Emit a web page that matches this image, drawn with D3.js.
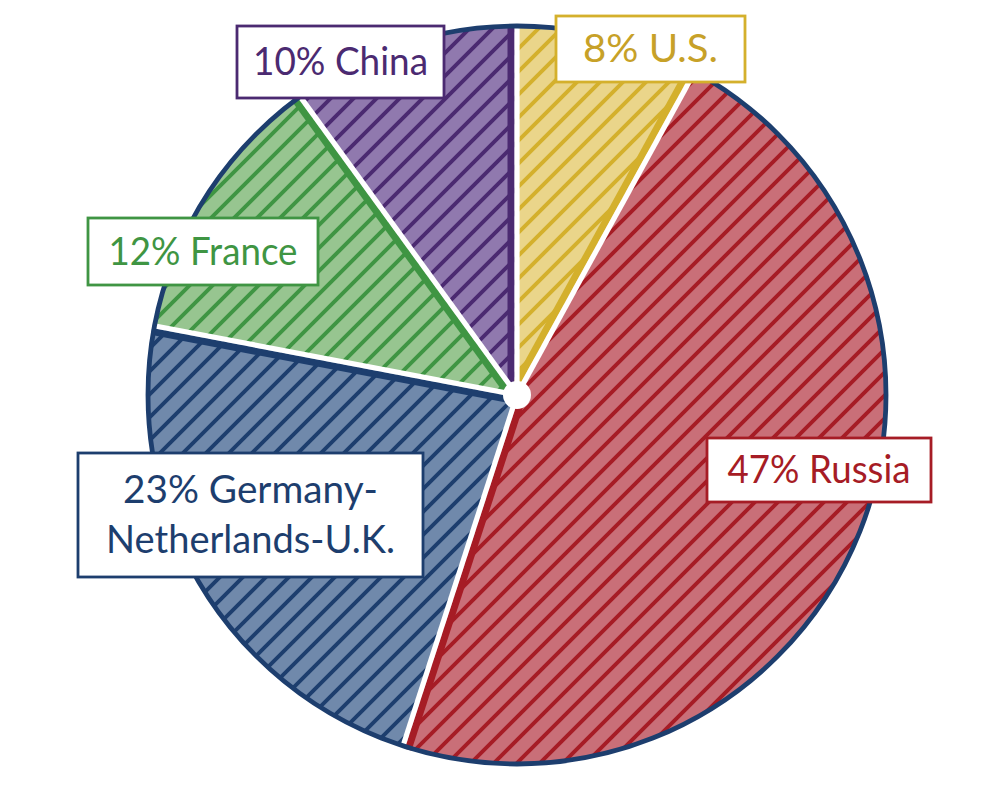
<!DOCTYPE html>
<html>
<head>
<meta charset="utf-8">
<script src="https://cdn.jsdelivr.net/npm/d3@7"></script>
<style>
  html, body { margin: 0; padding: 0; background: #fff; }
  svg { display: block; }
</style>
</head>
<body>
<div id="chart"></div>
<script>
// data, clockwise from 12 o'clock
const categories = ['U.S.', 'Russia', 'Germany-Netherlands-U.K.', 'France', 'China'];
const shares = [8, 47, 23, 12, 10];

// colours per slice
const darkColors = ['#d4b02c', '#a61c25', '#1d3e6e', '#3f9543', '#4b2a71'];
const lightColors = ['#ead58a', '#c96f78', '#7089ab', '#97c590', '#9079ae'];
const textColors = ['#c7a128', '#a61c25', '#1d3e6e', '#3f9543', '#4b2a71'];

// label boxes (layout only): left, top, width, height, text widths per line
const labelBoxes = [
  { x: 556, y: 16, w: 189, h: 66, tw: [135] },
  { x: 707, y: 438, w: 224, h: 64, tw: [183] },
  { x: 78, y: 453, w: 345, h: 124, tw: [255, 289] },
  { x: 88, y: 218, w: 230, h: 67, tw: [189] },
  { x: 237, y: 26, w: 207, h: 72, tw: [175] },
];

const width = 1000, height = 796;
const cx = 517, cy = 395, radius = 369;
const navy = '#1d3e6e';

const svg = d3.select('#chart')
  .append('svg')
  .attr('width', width)
  .attr('height', height);

const defs = svg.append('defs');

// hatch patterns "/" at 45deg
const step = 23;
categories.forEach((c, i) => {
  const p = defs.append('pattern')
    .attr('id', 'hatch' + i)
    .attr('patternUnits', 'userSpaceOnUse')
    .attr('width', step)
    .attr('height', step);
  p.append('rect')
    .attr('width', step)
    .attr('height', step)
    .attr('fill', lightColors[i]);
  p.append('path')
    .attr('d', `M-3,3 l6,-6 M0,${step} l${step},-${step} M${step - 3},${step + 3} l6,-6`)
    .attr('stroke', darkColors[i])
    .attr('stroke-width', 3.9)
    .attr('stroke-linecap', 'square');
});

const pie = d3.pie().sort(null).value(d => d);
const arcs = pie(shares);

const arc = d3.arc().innerRadius(0).outerRadius(radius);

const g = svg.append('g').attr('transform', `translate(${cx},${cy})`);

// slices
g.selectAll('path.slice')
  .data(arcs)
  .enter()
  .append('path')
  .attr('class', 'slice')
  .attr('d', arc)
  .attr('fill', (d, i) => `url(#hatch${i})`);

// point on a ray at angle a (d3 angle, 0 = north), offset sideways by off
function ray(a, r, off) {
  const sx = Math.sin(a), sy = -Math.cos(a);
  // perpendicular pointing counter-clockwise
  const px = -Math.cos(a), py = -Math.sin(a);
  return [sx * r + px * off, sy * r + py * off];
}

const edges = g.append('g');

// dark stripe along each slice's closing edge
arcs.forEach((d, i) => {
  const a = d.endAngle;
  const p0 = ray(a, 0, 6), p1 = ray(a, radius + 10, 6);
  edges.append('line')
    .attr('x1', p0[0]).attr('y1', p0[1])
    .attr('x2', p1[0]).attr('y2', p1[1])
    .attr('stroke', darkColors[i])
    .attr('stroke-width', 7);
});

// white gaps between slices
arcs.forEach(d => {
  const a = d.endAngle;
  const p1 = ray(a, radius + 10, 0);
  edges.append('line')
    .attr('x1', 0).attr('y1', 0)
    .attr('x2', p1[0]).attr('y2', p1[1])
    .attr('stroke', '#fff')
    .attr('stroke-width', 5.2);
});

// mask the overshoot outside the circle
g.append('circle')
  .attr('r', radius + 14)
  .attr('fill', 'none')
  .attr('stroke', '#fff')
  .attr('stroke-width', 24);

// outer rim
g.append('circle')
  .attr('r', radius)
  .attr('fill', 'none')
  .attr('stroke', navy)
  .attr('stroke-width', 4.8);

// centre hole
g.append('circle')
  .attr('r', 14)
  .attr('fill', '#fff');

// labels
const labels = svg.append('g')
  .style('font-family', 'Lato, "Noto Sans", sans-serif')
  .style('font-size', '38px');

arcs.forEach((d, i) => {
  const b = labelBoxes[i];
  const name = categories[i];
  const full = `${d.data}% ${name}`;
  let lines = [full];
  if (b.tw.length > 1) {
    const k = full.indexOf('-') + 1;
    lines = [full.slice(0, k), full.slice(k)];
  }
  const lg = labels.append('g');
  lg.append('rect')
    .attr('x', b.x)
    .attr('y', b.y)
    .attr('width', b.w)
    .attr('height', b.h)
    .attr('fill', '#fff')
    .attr('stroke', darkColors[i])
    .attr('stroke-width', 2.8);
  const midY = b.y + b.h / 2;
  lines.forEach((t, j) => {
    lg.append('text')
      .attr('x', b.x + b.w / 2)
      .attr('y', midY + 13 + (j - (lines.length - 1) / 2) * 50)
      .attr('text-anchor', 'middle')
      .attr('fill', textColors[i])
      .attr('textLength', b.tw[j])
      .attr('lengthAdjust', 'spacingAndGlyphs')
      .text(t);
  });
});
</script>
</body>
</html>
